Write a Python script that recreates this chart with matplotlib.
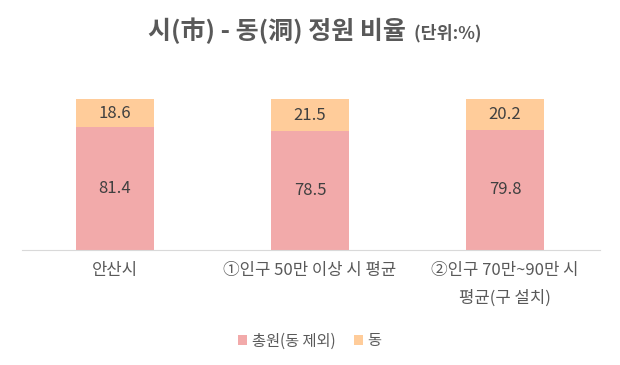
import matplotlib
matplotlib.use("Agg")
import matplotlib.pyplot as plt
import numpy as np

plt.rcParams['font.family'] = ['Noto Sans CJK KR', 'DejaVu Sans']

############
# Data
categories = ['안산시', '①인구 50만 이상 시 평균', '②인구 70만~90만 시\n평균(구 설치)']
si_vals = [81.4, 78.5, 79.8]    # 총원(동 제외)
dong_vals = [18.6, 21.5, 20.2]  # 동
series_names = ['총원(동 제외)', '동']
############

pink = '#F2AAAA'
peach = '#FFCC9A'
txt = '#404040'

fig = plt.figure(figsize=(6.2, 3.65), dpi=100)
ax = fig.add_axes([22 / 620, 1 - 250 / 365, 578 / 620, 190 / 365])

x = np.arange(len(categories))
w = 0.395
b1 = ax.bar(x, si_vals, w, color=pink, label=series_names[0])
b2 = ax.bar(x, dong_vals, w, bottom=si_vals, color=peach, label=series_names[1])

for i in range(len(x)):
    ax.text(x[i], si_vals[i] / 2, f'{si_vals[i]:.1f}', ha='center', va='center',
            fontsize=12, color=txt)
    ax.text(x[i], si_vals[i] + dong_vals[i] / 2, f'{dong_vals[i]:.1f}',
            ha='center', va='center', fontsize=12, color=txt)

ax.set_xlim(-(115 - 22) / 195, 2 + (600 - 505) / 195)
ax.set_ylim(0, 100 * 190 / 151)
ax.set_yticks([])
ax.set_xticks(x)
ax.set_xticklabels(categories, fontsize=12, color='#595959', linespacing=1.75)
ax.tick_params(axis='x', length=0, pad=9)
for s in ['top', 'left', 'right']:
    ax.spines[s].set_visible(False)
ax.spines['bottom'].set_color('#D9D9D9')

leg = fig.legend(handles=[b1, b2], loc='center', bbox_to_anchor=(310 / 620, 1 - 341 / 365),
                 ncol=2, frameon=False, fontsize=11, handlelength=0.6, handleheight=0.6,
                 handletextpad=0.3, columnspacing=1.2, labelcolor='#595959')

# title in two sizes
t1 = fig.text(0.0, 1 - 31 / 365, '시(市) - 동(洞) 정원 비율', fontsize=18,
              fontweight='bold', color='#595959', va='center', ha='left')
t2 = fig.text(0.0, 1 - 33 / 365, '  (단위:%)', fontsize=12.5, fontweight='bold',
              color='#595959', va='center', ha='left')
fig.canvas.draw()
r = fig.canvas.get_renderer()
w1 = t1.get_window_extent(r).width / fig.bbox.width
w2 = t2.get_window_extent(r).width / fig.bbox.width
x0 = 315 / 620 - (w1 + w2) / 2
t1.set_x(x0)
t2.set_x(x0 + w1)

fig.savefig('out.png', dpi=100)
